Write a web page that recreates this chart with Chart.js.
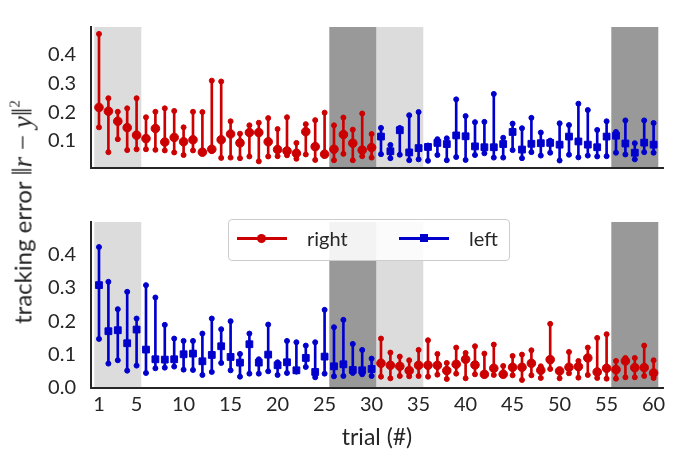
<!DOCTYPE html>
<html>
<head>
<meta charset="utf-8">
<script src="https://cdn.jsdelivr.net/npm/chart.js@4.4.1/dist/chart.umd.min.js"></script>
<style>
  html, body { margin: 0; padding: 0; background: #ffffff; }
  #wrap { position: relative; width: 690px; height: 459px; overflow: hidden; font-family: 'Lato', sans-serif; color: #262626; }
  canvas { position: absolute; left: 0; }
  #cTop { top: 0; }
  #cBot { top: 195px; }
  #ylab { position: absolute; left: 22px; top: 212px; transform: translate(-50%, -50%) rotate(-90deg); white-space: nowrap; font-size: 24px; line-height: 26px; }
  #ylab .m { font-family: 'Liberation Serif', 'DejaVu Serif', serif; font-size: 27px; }
  #ylab .bar { font-size: 30px; }
  #ylab sup { font-size: 15px; vertical-align: 12px; line-height: 0; }
  #legend { position: absolute; left: 228px; top: 219px; width: 280px; height: 40px; border: 1px solid #cccccc; border-radius: 4px; background: rgba(255,255,255,0.88); z-index: 5; }
  .lline { position: absolute; height: 2.5px; width: 50px; top: 17px; }
  .ltxt { position: absolute; top: 6px; font-size: 20px; line-height: 24px; }
  .lmk { position: absolute; }
</style>
</head>
<body>
<div id="wrap">
  <canvas id="cTop" width="690" height="195"></canvas>
  <canvas id="cBot" width="690" height="264"></canvas>
  <div id="ylab">tracking error <span class="m"><span class="bar">‖</span><i>r</i> − <i>y</i><span class="bar">‖</span><sup>2</sup></span></div>
  <div id="legend">
    <div class="lline" style="left:8px; background:#cc0000;"></div>
    <div class="lmk" style="left:28px; top:13.5px; width:9px; height:9px; border-radius:50%; background:#cc0000;"></div>
    <div class="ltxt" style="left:78px;">right</div>
    <div class="lline" style="left:170px; background:#0000cc;"></div>
    <div class="lmk" style="left:191px; top:14px; width:8px; height:8px; background:#0000cc;"></div>
    <div class="ltxt" style="left:240px;">left</div>
  </div>
</div>
<script>
// ---------------- data ----------------
const trialsA = Array.from({length: 30}, (_, i) => i + 1);   // trials 1..30
const trialsB = Array.from({length: 30}, (_, i) => i + 31);  // trials 31..60

// top panel: trials 1-30 right (red), trials 31-60 left (blue)
const topRightMid = [0.216,0.203,0.168,0.146,0.120,0.108,0.143,0.096,0.112,0.097,0.104,0.061,0.071,0.104,0.124,0.093,0.129,0.129,0.097,0.070,0.065,0.057,0.132,0.080,0.054,0.071,0.122,0.092,0.068,0.077];
const topRightMin = [0.147,0.061,0.106,0.068,0.071,0.071,0.069,0.067,0.060,0.051,0.067,0.059,0.065,0.041,0.042,0.040,0.046,0.029,0.046,0.047,0.050,0.038,0.053,0.034,0.049,0.033,0.055,0.033,0.047,0.042];
const topRightMax = [0.471,0.248,0.201,0.213,0.248,0.182,0.201,0.213,0.204,0.147,0.201,0.200,0.309,0.306,0.168,0.125,0.154,0.163,0.179,0.141,0.182,0.093,0.158,0.172,0.198,0.154,0.181,0.139,0.195,0.124];

const topLeftMid = [0.115,0.064,0.137,0.060,0.075,0.079,0.093,0.089,0.119,0.116,0.081,0.078,0.078,0.089,0.131,0.070,0.090,0.092,0.093,0.087,0.115,0.098,0.087,0.078,0.115,0.118,0.091,0.059,0.094,0.087];
const topLeftMin = [0.054,0.040,0.052,0.033,0.036,0.031,0.051,0.033,0.044,0.034,0.051,0.057,0.042,0.042,0.068,0.040,0.061,0.049,0.059,0.032,0.052,0.043,0.049,0.046,0.047,0.059,0.053,0.036,0.061,0.059];
const topLeftMax = [0.145,0.086,0.145,0.189,0.200,0.084,0.106,0.109,0.244,0.186,0.165,0.166,0.263,0.111,0.160,0.144,0.180,0.129,0.101,0.161,0.155,0.229,0.207,0.138,0.168,0.131,0.171,0.092,0.171,0.162];

// bottom panel: trials 1-30 left (blue), trials 31-60 right (red)
const botLeftMid = [0.308,0.170,0.173,0.134,0.175,0.115,0.086,0.085,0.086,0.101,0.103,0.080,0.099,0.125,0.093,0.076,0.131,0.076,0.100,0.068,0.077,0.053,0.090,0.048,0.094,0.065,0.071,0.054,0.053,0.057];
const botLeftMin = [0.147,0.073,0.083,0.052,0.067,0.045,0.059,0.061,0.064,0.055,0.054,0.039,0.048,0.075,0.053,0.034,0.043,0.043,0.050,0.039,0.045,0.049,0.063,0.032,0.043,0.035,0.036,0.045,0.041,0.036];
const botLeftMax = [0.422,0.318,0.236,0.288,0.208,0.308,0.271,0.189,0.148,0.141,0.141,0.163,0.208,0.176,0.200,0.102,0.163,0.086,0.190,0.077,0.141,0.137,0.127,0.137,0.234,0.182,0.204,0.132,0.114,0.088];

const botRightMid = [0.074,0.068,0.065,0.052,0.068,0.068,0.068,0.052,0.071,0.086,0.069,0.041,0.059,0.041,0.062,0.062,0.074,0.053,0.085,0.051,0.062,0.064,0.090,0.048,0.059,0.055,0.081,0.061,0.061,0.045];
const botRightMin = [0.034,0.029,0.036,0.035,0.036,0.034,0.040,0.027,0.043,0.029,0.041,0.038,0.039,0.038,0.038,0.024,0.038,0.030,0.057,0.029,0.044,0.031,0.039,0.030,0.028,0.028,0.032,0.032,0.036,0.030];
const botRightMax = [0.148,0.106,0.094,0.083,0.114,0.143,0.102,0.075,0.121,0.105,0.125,0.103,0.130,0.066,0.096,0.100,0.113,0.065,0.192,0.054,0.108,0.081,0.121,0.150,0.161,0.081,0.090,0.090,0.127,0.083];

const xTicks = [1, 5, 10, 15, 20, 25, 30, 35, 40, 45, 50, 55, 60];
const topYTicks = [0.1, 0.2, 0.3, 0.4];
const botYTicks = [0.0, 0.1, 0.2, 0.3, 0.4];
const lightBands = [[0.5, 5.5], [30.5, 35.5]];
const darkBands = [[25.5, 30.5], [55.5, 60.5]];

// ---------------- styling ----------------
const RED = '#cc0000';
const BLUE = '#0000cc';
const INK = '#262626';
Chart.defaults.font.family = "'Lato', sans-serif";
Chart.defaults.color = INK;

const bandPlugin = {
  id: 'bands',
  beforeDraw(chart) {
    const {ctx, chartArea, scales} = chart;
    const x = scales.x;
    ctx.save();
    const draw = (bands, color) => {
      ctx.fillStyle = color;
      bands.forEach(([a, b]) => {
        const x0 = x.getPixelForValue(a), x1 = x.getPixelForValue(b);
        ctx.fillRect(x0, chartArea.top, x1 - x0, chartArea.bottom - chartArea.top - 1);
      });
    };
    draw(lightBands, '#dcdcdc');
    draw(darkBands, '#999999');
    ctx.restore();
  }
};

function seriesDatasets(trials, mid, lo, hi, color, style) {
  return [
    {
      type: 'bar',
      data: trials.map((t, i) => ({x: t, y: [lo[i], hi[i]]})),
      backgroundColor: color,
      borderWidth: 0,
      barThickness: 2,
      grouped: false,
      order: 3
    },
    {
      type: 'scatter',
      data: trials.flatMap((t, i) => [{x: t, y: lo[i]}, {x: t, y: hi[i]}]),
      pointRadius: 2.5,
      pointBackgroundColor: color,
      pointBorderColor: color,
      pointBorderWidth: 1,
      order: 2
    },
    {
      type: 'scatter',
      data: trials.map((t, i) => ({x: t, y: mid[i]})),
      pointStyle: style,
      pointRadius: style === 'rect' ? 4.8 : 4.3,
      pointBackgroundColor: color,
      pointBorderColor: color,
      pointBorderWidth: 1,
      order: 1
    }
  ];
}

function makeChart(id, datasets, yMin, yMax, yTicks, showX, padTop, xHeight) {
  return new Chart(document.getElementById(id), {
    type: 'scatter',
    data: {datasets},
    options: {
      responsive: false,
      animation: false,
      events: [],
      layout: {padding: {left: 0, right: 27, top: padTop, bottom: 0}},
      plugins: {legend: {display: false}, tooltip: {enabled: false}},
      scales: {
        x: {
          type: 'linear',
          min: 0.15,
          max: 61,
          offset: false,
          grid: {display: false, drawTicks: false, tickLength: 0},
          border: {display: true, color: INK, width: 2},
          afterBuildTicks: (s) => { s.ticks = xTicks.map(v => ({value: v})); },
          afterFit: (s) => { s.height = xHeight; },
          ticks: {
            display: showX,
            padding: 5,
            font: {size: 20},
            color: INK,
            maxRotation: 0,
            autoSkip: false,
            callback: (v) => String(v)
          },
          title: {
            display: showX,
            text: 'trial (#)',
            font: {size: 23},
            color: INK,
            padding: {top: 0, bottom: 8}
          }
        },
        y: {
          min: yMin,
          max: yMax,
          grid: {display: false, drawTicks: false, tickLength: 0},
          border: {display: true, color: INK, width: 2},
          afterBuildTicks: (s) => { s.ticks = yTicks.map(v => ({value: v})); },
          afterFit: (s) => { s.width = 91; },
          ticks: {
            padding: 15,
            font: {size: 20},
            color: INK,
            callback: (v) => Number(v).toFixed(1)
          }
        }
      }
    },
    plugins: [bandPlugin]
  });
}

makeChart('cTop',
  [...seriesDatasets(trialsA, topRightMid, topRightMin, topRightMax, RED, 'circle'),
   ...seriesDatasets(trialsB, topLeftMid, topLeftMin, topLeftMax, BLUE, 'rect')],
  0.006, 0.495, topYTicks, false, 4, 12);

makeChart('cBot',
  [...seriesDatasets(trialsA, botLeftMid, botLeftMin, botLeftMax, BLUE, 'rect'),
   ...seriesDatasets(trialsB, botRightMid, botRightMin, botRightMax, RED, 'circle')],
  0.0, 0.497, botYTicks, true, 13, 71);
</script>
</body>
</html>
